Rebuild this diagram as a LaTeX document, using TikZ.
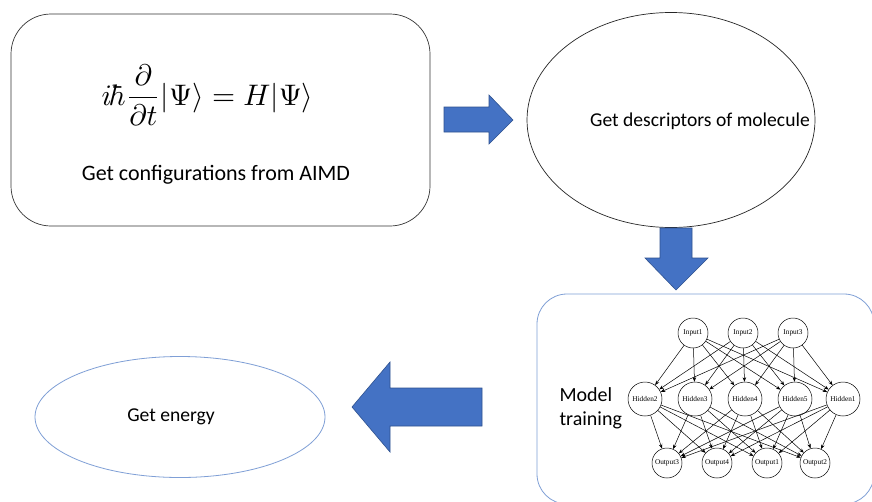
\documentclass[tikz,border=0pt]{standalone}
\usepackage{fontspec}
\setmainfont{Carlito}
\newfontfamily\nnfont{Liberation Serif}
\usetikzlibrary{shapes.geometric,arrows.meta}
\definecolor{arrowblue}{HTML}{4472C4}
\definecolor{arrowedge}{HTML}{2F528F}
\definecolor{lineblue}{HTML}{7F9FD6}
\tikzset{
  blockarrow/.style={fill=arrowblue, draw=arrowedge, line width=0.6pt, line join=miter},
  nnin/.style={circle, draw, line width=0.5pt, minimum size=30pt, inner sep=0pt, font=\nnfont\fontsize{7.3}{8}\selectfont},
  nnhid/.style={circle, draw, line width=0.5pt, minimum size=34pt, inner sep=0pt, font=\nnfont\fontsize{7.3}{8}\selectfont},
  nnedge/.style={-{Stealth[length=4.5pt,width=3.5pt]}, line width=0.5pt},
  label/.style={font=\fontsize{22}{26}\selectfont}
}
\begin{document}
\begin{tikzpicture}[x=1pt,y=-1pt]
\useasboundingbox (0,0) rectangle (872,501);
\clip (0,0) rectangle (872,501);
\fill[white] (0,0) rectangle (872,501);

% box 1
\node[draw=black!80, line width=0.7pt, rounded corners=40pt, minimum width=419pt, minimum height=212pt] (aimd) at (220.5,120) {};
\node (eq) at (207.5,95) {\scalebox{2.97}{$\displaystyle i\hbar\frac{\partial}{\partial t}|\Psi\rangle = H|\Psi\rangle$}};
\node[label] (aimdtxt) at (216,175) {Get configurations from AIMD};

% ellipse 1
\node[ellipse, draw=black!85, line width=0.7pt, minimum width=288pt, minimum height=215pt] (desc) at (671,120) {};
\node[font=\fontsize{19.6}{23}\selectfont] (desctxt) at (700,121) {Get descriptors of molecule};

% right arrow
\draw[blockarrow] (444,107) -- (489,107) -- (489,95) -- (513,120) -- (489,144) -- (489,132) -- (444,132) -- cycle;

% down arrow
\draw[blockarrow] (660,228) -- (692,228) -- (692,258) -- (708,258) -- (676,290) -- (645,258) -- (660,258) -- cycle;

% left arrow
\draw[blockarrow] (482,388) -- (390,388) -- (390,362) -- (352,407) -- (390,452) -- (390,426) -- (482,426) -- cycle;

% energy ellipse
\node[ellipse, draw=lineblue, line width=0.8pt, minimum width=290pt, minimum height=121pt] (energy) at (180,417) {};
\node[font=\fontsize{19.6}{23}\selectfont] (energytxt) at (171,417) {Get energy};

% NN box
\node[draw=lineblue, line width=0.8pt, rounded corners=30pt, minimum width=337pt, minimum height=210pt] (nnbox) at (705.5,399) {};
\node[font=\fontsize{20}{24}\selectfont, align=left, anchor=west] (mt) at (556,408) {Model\\training};

% NN nodes
\node[nnin] (i1) at (693,333) {Input1};
\node[nnin] (i2) at (743,333) {Input2};
\node[nnin] (i3) at (793,333) {Input3};
\node[nnhid] (h2) at (645,399) {Hidden2};
\node[nnhid] (h3) at (695,399) {Hidden3};
\node[nnhid] (h4) at (745,399) {Hidden4};
\node[nnhid] (h5) at (795,399) {Hidden5};
\node[nnhid] (h1) at (843,399) {Hidden1};
\node[nnin] (o3) at (667,463) {Output3};
\node[nnin] (o4) at (717,463) {Output4};
\node[nnin] (o1) at (767,463) {Output1};
\node[nnin] (o2) at (815,463) {Output2};

\foreach \a in {i1,i2,i3}
  \foreach \b in {h2,h3,h4,h5,h1}
    \draw[nnedge] (\a) -- (\b);
\foreach \a in {h2,h3,h4,h5,h1}
  \foreach \b in {o3,o4,o1,o2}
    \draw[nnedge] (\a) -- (\b);
\end{tikzpicture}
\end{document}
